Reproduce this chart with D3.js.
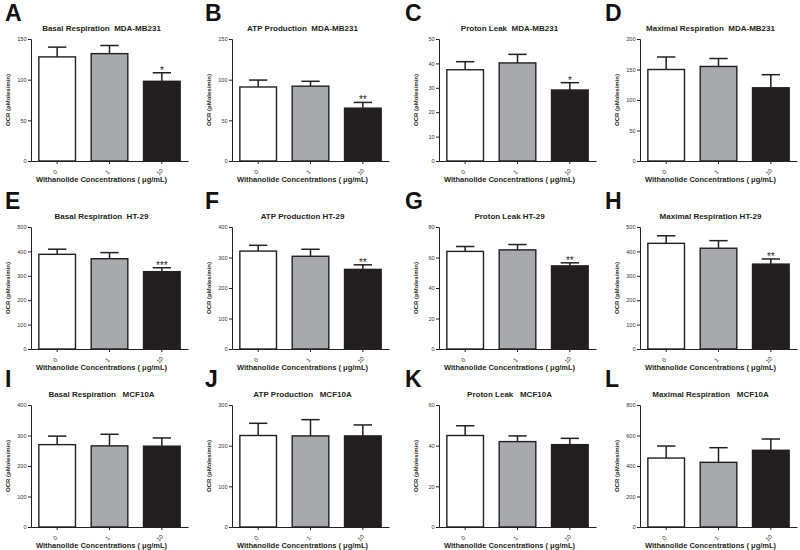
<!DOCTYPE html>
<html>
<head>
<meta charset="utf-8">
<script src="https://cdn.jsdelivr.net/npm/d3@7"></script>
<style>
    body { margin: 0; background: #fff; }
    text { font-family: "Liberation Sans", Arial, sans-serif; }
</style>
</head>
<body>
<div id="chart"></div>
<script>
// Data
const letters = ["A", "B", "C", "D", "E", "F", "G", "H", "I", "J", "K", "L"];
const titles = [
    "Basal Respiration  MDA-MB231", "ATP Production  MDA-MB231", "Proton Leak  MDA-MB231", "Maximal Respiration  MDA-MB231",
    "Basal Respiration  HT-29", "ATP Production HT-29", "Proton Leak HT-29", "Maximal Respiration HT-29",
    "Basal Respiration   MCF10A", "ATP Production   MCF10A", "Proton Leak   MCF10A", "Maximal Respiration   MCF10A"
];
const doses = ["0", "1", "10"];
const yMax = [150, 150, 50, 200, 500, 400, 80, 500, 400, 300, 60, 800];
const yStep = [50, 50, 10, 50, 100, 100, 20, 100, 100, 100, 20, 200];
const means = [
    [128, 132, 98], [91, 92, 65], [37.4, 40.2, 29.1], [150, 155, 120],
    [388, 370, 317], [321, 304, 261], [64, 65, 54.5], [433, 413, 348],
    [270, 266, 265], [225, 224, 224], [45, 42, 40.5], [452, 424, 503]
];
const sems = [
    [12, 10, 10.5], [8.5, 6, 7], [3.3, 3.5, 3.0], [20.5, 13, 21.5],
    [21, 25, 16], [19, 23, 15], [3.2, 3.5, 2.0], [31, 31, 21],
    [28, 38, 27], [30, 40, 27], [4.8, 2.8, 3.1], [79, 96, 74]
];
const stars = ["*", "**", "*", "", "***", "**", "**", "**", "", "", "", ""];

const barColors = ["#ffffff", "#a7a9ac", "#231f20"];
const ink = "#231f20";

const width = 800;
const height = 550;

// panel grid
const colX = [31, 232, 439, 640];
const rowTop = [39, 227, 405];
const plotW = 157;
const plotH = 122;

const svg = d3.select("#chart").append("svg")
    .attr("width", width)
    .attr("height", height)
    .attr("viewBox", `0 0 ${width} ${height}`);

letters.forEach((letter, i) => {
    const col = i % 4;
    const row = Math.floor(i / 4);
    const x0 = colX[col];
    const y0 = rowTop[row];

    const g = svg.append("g").attr("transform", `translate(${x0},${y0})`);

    const x = d3.scaleBand()
        .domain(doses)
        .range([0, plotW])
        .paddingInner(0.3)
        .paddingOuter(0.15);

    const y = d3.scaleLinear()
        .domain([0, yMax[i]])
        .range([plotH, 0]);

    // panel letter
    svg.append("text")
        .attr("x", col * 200 + 5)
        .attr("y", y0 - 18)
        .attr("font-size", 23)
        .attr("font-weight", "bold")
        .attr("fill", "#111")
        .text(letter);

    // title
    g.append("text")
        .attr("x", plotW / 2 - 8)
        .attr("y", -8)
        .attr("text-anchor", "middle")
        .attr("font-size", 8)
        .attr("font-weight", "bold")
        .attr("fill", ink)
        .style("white-space", "pre")
        .text(titles[i]);

    const vals = doses.map((d, k) => ({ dose: d, mean: means[i][k], sem: sems[i][k], k }));

    // error bars (upper only)
    const capW = x.bandwidth() * 0.5;
    g.selectAll("line.err")
        .data(vals)
        .enter()
        .append("line")
        .attr("class", "err")
        .attr("x1", d => x(d.dose) + x.bandwidth() / 2)
        .attr("x2", d => x(d.dose) + x.bandwidth() / 2)
        .attr("y1", d => y(d.mean))
        .attr("y2", d => y(d.mean + d.sem))
        .attr("stroke", ink)
        .attr("stroke-width", 1.5);

    g.selectAll("line.cap")
        .data(vals)
        .enter()
        .append("line")
        .attr("class", "cap")
        .attr("x1", d => x(d.dose) + x.bandwidth() / 2 - capW / 2)
        .attr("x2", d => x(d.dose) + x.bandwidth() / 2 + capW / 2)
        .attr("y1", d => y(d.mean + d.sem))
        .attr("y2", d => y(d.mean + d.sem))
        .attr("stroke", ink)
        .attr("stroke-width", 1.5);

    // bars
    g.selectAll("rect.bar")
        .data(vals)
        .enter()
        .append("rect")
        .attr("class", "bar")
        .attr("x", d => x(d.dose))
        .attr("y", d => y(d.mean))
        .attr("width", x.bandwidth())
        .attr("height", d => plotH - y(d.mean))
        .attr("fill", d => barColors[d.k])
        .attr("stroke", ink)
        .attr("stroke-width", 1.4);

    // significance stars over the 10 µg/mL bar
    if (stars[i]) {
        const last = vals[2];
        g.append("text")
            .attr("x", x(last.dose) + x.bandwidth() / 2)
            .attr("y", y(last.mean + last.sem) + 1)
            .attr("text-anchor", "middle")
            .attr("font-size", 10)
            .attr("fill", ink)
            .text(stars[i]);
    }

    // y axis
    const yAxis = g.append("g")
        .call(d3.axisLeft(y)
            .tickValues(d3.range(0, yMax[i] + 0.001, yStep[i]))
            .tickSize(3)
            .tickPadding(1.5)
            .tickFormat(d3.format("d")));
    yAxis.select(".domain").attr("stroke", ink).attr("stroke-width", 1);
    yAxis.selectAll(".tick line").attr("stroke", ink);
    yAxis.selectAll(".tick text")
        .attr("font-size", 5.5)
        .attr("fill", "#333")
        .attr("font-family", "Liberation Sans, Arial, sans-serif");

    // x axis
    const xAxis = g.append("g")
        .attr("transform", `translate(0,${plotH})`)
        .call(d3.axisBottom(x).tickSize(3).tickSizeOuter(0));
    xAxis.select(".domain").attr("stroke", ink).attr("stroke-width", 1);
    xAxis.selectAll(".tick line").attr("stroke", ink);
    xAxis.selectAll(".tick text")
        .attr("font-size", 6)
        .attr("fill", "#333")
        .attr("font-family", "Liberation Sans, Arial, sans-serif")
        .attr("text-anchor", "middle")
        .attr("y", 0)
        .attr("dy", "0.35em")
        .attr("transform", "translate(-2,11) rotate(-45)");

    // y label
    g.append("text")
        .attr("transform", `translate(${-21},${plotH / 2}) rotate(-90)`)
        .attr("text-anchor", "middle")
        .attr("font-size", 6)
        .attr("font-weight", "bold")
        .attr("fill", ink)
        .text("OCR (pMoles/min)");

    // x label
    g.append("text")
        .attr("x", plotW / 2 - 8)
        .attr("y", plotH + 21)
        .attr("text-anchor", "middle")
        .attr("font-size", 7.5)
        .attr("font-weight", "bold")
        .attr("fill", ink)
        .text("Withanolide Concentrations ( \u03BCg/mL)");
});
</script>
</body>
</html>
